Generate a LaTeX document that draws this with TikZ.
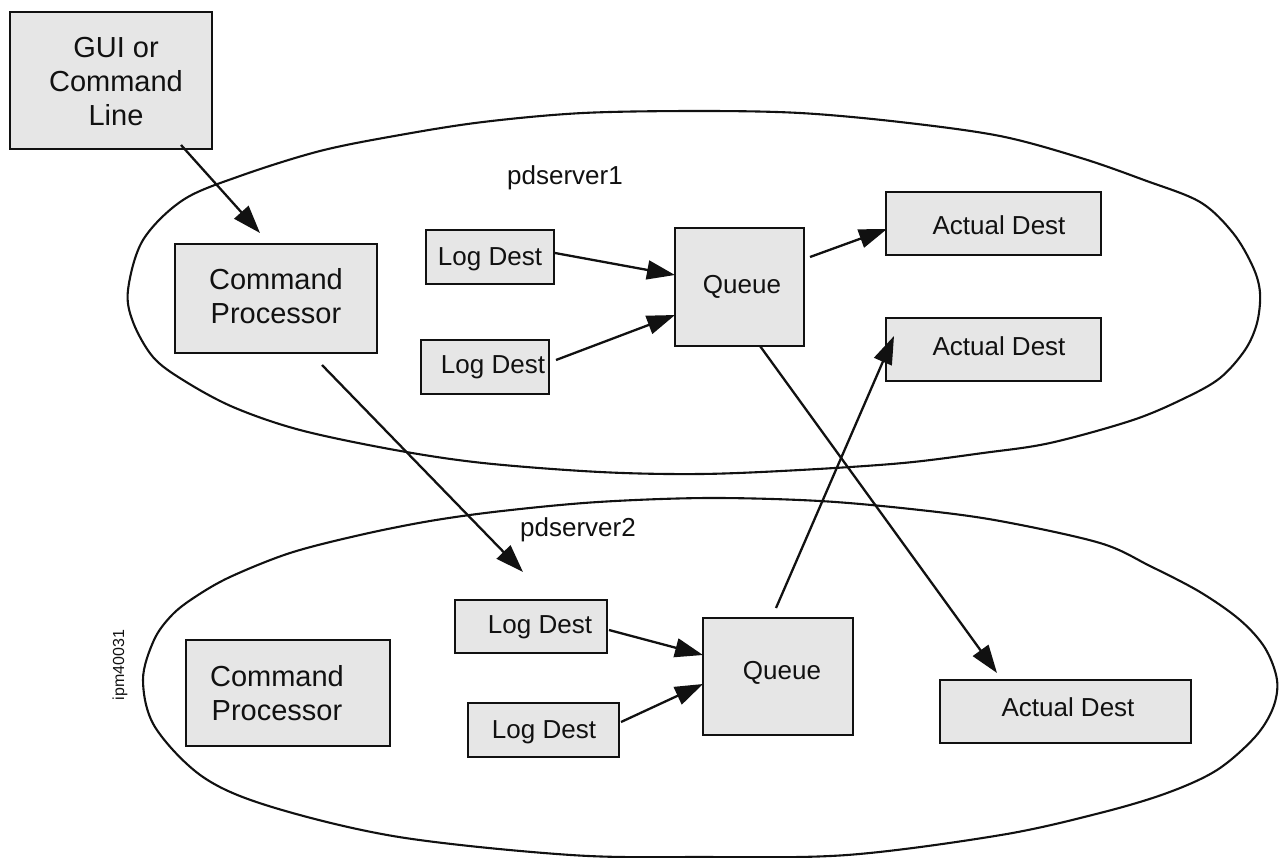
\documentclass[tikz,border=0pt]{standalone}
\usepackage{fontspec}
\setmainfont{Liberation Sans}
\usetikzlibrary{arrows.meta}
\definecolor{boxfill}{HTML}{E6E6E6}
\definecolor{ink}{HTML}{111111}
\tikzset{
  box/.style={draw=ink, fill=boxfill, line width=2.4pt, inner sep=0pt},
  bigtxt/.style={font=\fontsize{29}{34}\selectfont, align=center, text=ink, inner sep=0pt},
  smalltxt/.style={font=\fontsize{26}{30}\selectfont, text=ink, inner sep=0pt},
  conn/.style={draw=ink, line width=2.3pt, -{Triangle[length=28pt,width=19pt]}},
  server/.style={draw=ink, line width=2.1pt},
}
\begin{document}
\begin{tikzpicture}[x=1pt,y=-1pt]
\useasboundingbox (0,0) rectangle (1279,857);

% server ellipses
\draw[server] plot[smooth cycle, tension=0.55] coordinates {
 (128,290) (143,240) (183,200) (240,176) (320,151) (400,135) (483,122) (583,113)
 (700,111) (800,113) (900,122) (1000,136) (1081,158) (1144,180) (1200,202)
 (1233,233) (1253,267) (1260,293) (1257,323) (1245,350) (1220,378) (1185,398)
 (1133,420) (1050,443) (983,453) (903,463) (800,470) (700,474) (600,472)
 (483,463) (395,450) (300,430) (233,407) (183,380) (153,357) (133,322)};
\draw[server] plot[smooth cycle, tension=0.55] coordinates {
 (143,680) (154,640) (172,615) (195,597) (230,577) (290,553) (360,535) (430,521)
 (502,511) (598,502) (708,498) (820,501) (920,510) (1000,521) (1100,543) (1150,566)
 (1200,592) (1240,620) (1265,648) (1277,680) (1273,708) (1255,737) (1217,770)
 (1167,793) (1100,813) (1001,835) (847,855) (700,857) (571,855) (399,837)
 (272,807) (203,777) (155,727)};

\node[smalltxt] (ps1) at (565,178) {pdserver1};
\node[smalltxt] (ps2) at (578,530) {pdserver2};
\node[font=\fontsize{16}{18}\selectfont, text=ink, rotate=90, inner sep=0pt] (ipm) at (120,665) {ipm40031};

% boxes
\node[box, minimum width=202pt, minimum height=137pt] (gui) at (111,80.5) {};
\node[bigtxt] (guit) at (116,82) {GUI or\\Command\\Line};
\node[box, minimum width=202pt, minimum height=109pt] (cp1) at (276,298.5) {};
\node[bigtxt] (cp1t) at (276,296) {Command\\Processor};
\node[box, minimum width=128pt, minimum height=54pt] (ld1a) at (490,257) {};
\node[smalltxt] (ld1at) at (490,259) {Log Dest};
\node[box, minimum width=128pt, minimum height=54pt] (ld1b) at (485,367) {};
\node[smalltxt] (ld1bt) at (493,367) {Log Dest};
\node[box, minimum width=129pt, minimum height=118pt] (q1) at (739.5,287) {};
\node[smalltxt] (q1t) at (742,287) {Queue};
\node[box, minimum width=215pt, minimum height=63pt] (ad1a) at (993.5,223.5) {};
\node[smalltxt] (ad1at) at (999,225) {Actual Dest};
\node[box, minimum width=215pt, minimum height=63pt] (ad1b) at (993.5,349.5) {};
\node[smalltxt] (ad1bt) at (999,346) {Actual Dest};

\node[box, minimum width=204pt, minimum height=106pt] (cp2) at (288,693) {};
\node[bigtxt] (cp2t) at (277,693) {Command\\Processor};
\node[box, minimum width=152pt, minimum height=53pt] (ld2a) at (531,626.5) {};
\node[smalltxt] (ld2at) at (540,627) {Log Dest};
\node[box, minimum width=151pt, minimum height=54pt] (ld2b) at (543.5,730) {};
\node[smalltxt] (ld2bt) at (544,732) {Log Dest};
\node[box, minimum width=150pt, minimum height=117pt] (q2) at (778,676.5) {};
\node[smalltxt] (q2t) at (782,673) {Queue};
\node[box, minimum width=251pt, minimum height=63pt] (ad2) at (1065.5,711.5) {};
\node[smalltxt] (ad2t) at (1068,707) {Actual Dest};

% connector end points
\coordinate (s1) at (181,145);  \coordinate (e1) at (260,233);
\coordinate (s2) at (322,365);  \coordinate (e2) at (523,572);
\coordinate (s3) at (555,253);  \coordinate (e3) at (675,275);
\coordinate (s4) at (556,360);  \coordinate (e4) at (675,315);
\coordinate (s5) at (810,257);  \coordinate (e5) at (887,229);
\coordinate (s6) at (776,608);  \coordinate (e6) at (894,336);
\coordinate (s7) at (760,346);  \coordinate (e7) at (997,673);
\coordinate (s8) at (609,630);  \coordinate (e8) at (703,655);
\coordinate (s9) at (621,722);  \coordinate (e9) at (703,684);

\draw[conn] (s1) -- (e1);
\draw[conn] (s2) -- (e2);
\draw[conn] (s3) -- (e3);
\draw[conn] (s4) -- (e4);
\draw[conn] (s5) -- (e5);
\draw[conn] (s6) -- (e6);
\draw[conn] (s7) -- (e7);
\draw[conn] (s8) -- (e8);
\draw[conn] (s9) -- (e9);
\end{tikzpicture}
\end{document}
